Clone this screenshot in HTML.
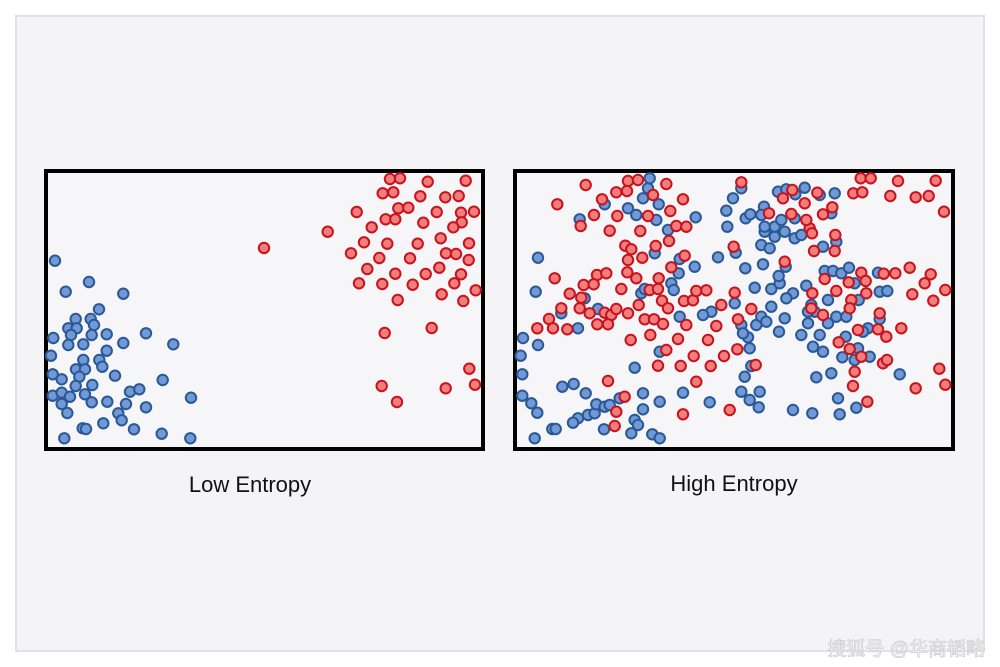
<!DOCTYPE html>
<html><head><meta charset="utf-8"><style>
html,body{margin:0;padding:0;background:#fff;}
#wrap{position:relative;width:1000px;height:667px;overflow:hidden;}
svg{display:block;}
</style></head><body>
<div id="wrap">
<svg id="chart" width="1000" height="667" viewBox="0 0 1000 667">
<rect x="0" y="0" width="1000" height="667" fill="#ffffff"/>
<rect x="16" y="16" width="968" height="635" fill="#f4f4f6" stroke="#e2e2e4" stroke-width="2"/>
<g id="leftPanel">
<rect x="46" y="171" width="437" height="278" fill="#f6f6f8" stroke="#000" stroke-width="4"/>
</g>
<g id="rightPanel">
<rect x="515" y="171" width="438" height="278" fill="#f6f6f8" stroke="#000" stroke-width="4"/>
</g>
<text x="250" y="492" text-anchor="middle" font-family="Liberation Sans, sans-serif" font-size="22" fill="#111">Low Entropy</text>
<text x="734" y="491" text-anchor="middle" font-family="Liberation Sans, sans-serif" font-size="22" fill="#111">High Entropy</text>
<text x="985" y="655" text-anchor="end" font-family="Liberation Sans, 'Noto Sans CJK SC', sans-serif" font-size="19" fill="#ffffff" stroke="#cfcfd2" stroke-width="0.8">搜狐号 @华商韬略</text>
</svg>
</div>
<script>
// Point coordinates, in 0..1350 (x) by 0..870 (y) units across each panel region
const lowBlueX=[45,147,77,250,177,107,152,85,110,162,40,93,155,200,318,85,130,250,400,33,200,130,178,187,108,135,118,38,65,225,368,107,157,38,65,90,135,270,298,453,65,155,202,258,318,82,235,245,190,128,138,282,365,73,451];
const lowBlueY=[287,351,380,386,433,462,462,490,490,480,519,510,510,508,505,540,538,534,538,572,557,585,585,605,613,613,635,628,643,632,645,663,660,692,683,695,688,680,673,698,717,712,710,717,727,744,745,766,775,790,792,793,806,820,820];
const lowRedX=[1050,1080,1163,1277,1028,1060,1141,1216,1256,950,1075,1105,1190,1263,1302,1037,1066,1150,1265,1240,995,863,672,972,1042,1133,1202,1287,933,1018,1110,1218,1248,1286,982,1066,1157,1198,1263,1243,957,1027,1118,1307,1205,1073,1270,1034,1175,1288,1025,1217,1305,1071];
const lowRedY=[42,40,50,47,85,82,94,97,93,141,130,128,141,143,140,163,163,173,172,187,187,200,249,232,236,236,220,235,265,279,280,265,267,285,312,326,327,308,328,355,355,357,359,376,388,405,408,504,489,611,663,670,659,711];
const highRedX=[233,148,282,325,360,390,357,475,435,525,258,218,328,305,420,487,505,535,397,483,443,352,370,360,403,530,490,140,267,295,227,257,358,385,452,185,340,425,450,220,215,160,245,290,310,325,360,392,462,480,528,555,565,595,680,640,730,123,88,135,178,268,300,410,438,465,535,625,690,368,427,510,600,475,557,648,688,450,518,608,565,300,350,325,320,525,665,700,825,853,890,928,973,783,850,905,945,895,912,982,918,980,830,677,1058,1088,1170,1283,1036,1063,1147,1223,1262,1308,1205,1268,1250,1060,1127,1162,1073,950,1022,985,1213,1276,1312,1075,1030,1025,1115,1180,1110,1135,1050,992,1025,1060,1125,1137,1040,1035,1078,1223,1294,1312,913,910,945,743];
const highRedY=[60,118,103,82,48,45,78,57,90,103,150,183,153,197,153,138,183,185,198,228,243,242,253,285,278,272,307,340,330,325,360,358,322,340,340,386,372,375,372,398,430,430,445,443,450,432,445,420,407,430,408,406,378,376,383,420,432,462,490,490,493,478,478,463,463,477,480,483,463,525,510,522,525,555,573,573,553,602,603,603,650,648,695,740,783,748,735,52,100,75,115,83,127,145,147,190,148,165,205,210,258,258,290,245,40,40,48,47,85,82,93,97,93,140,308,328,355,323,326,325,348,342,352,378,388,407,375,385,405,430,445,490,493,515,495,532,552,575,595,585,620,663,710,670,611,659,385,430,450,600];
const highBlueX=[90,83,45,90,38,43,43,70,88,80,133,143,163,197,233,210,195,240,260,265,290,305,335,288,380,390,405,405,370,433,455,455,525,380,455,605,752,725,755,700,710,730,725,720,745,760,775,790,813,830,855,835,790,815,812,833,765,740,712,630,683,680,700,705,610,585,560,512,490,497,515,160,210,230,270,400,410,515,440,563,420,425,405,452,445,385,360,290,215,480,655,658,675,700,713,727,768,760,810,835,862,890,935,980,970,985,945,760,785,770,800,830,860,880,800,770,820,860,935,900,880,915,945,970,925,990,995,1045,1003,1013,1040,1050,1085,1080,1065,1115,1115,1138,1110,1175,950,975,1000,1023,1040,1052,960,910,895,985,1015,960,920,900,855,913];
const highBlueY=[278,380,519,540,572,628,692,715,743,820,792,792,665,657,685,760,773,750,745,718,725,720,700,793,765,780,733,685,805,808,820,710,683,608,560,712,727,705,680,680,635,603,550,517,480,455,470,425,500,460,385,400,372,355,333,305,298,368,310,277,263,415,480,505,440,450,305,325,355,375,455,445,490,400,432,385,372,282,265,157,70,40,100,118,165,150,130,118,163,195,137,185,100,70,160,148,125,150,80,73,88,68,90,85,145,230,245,240,250,200,215,200,220,210,185,185,165,160,510,475,510,545,560,625,637,700,748,728,577,515,585,550,575,490,500,462,380,378,323,628,318,318,325,308,355,405,405,420,362,455,455,475,440,440,735,745];

// axis functions: map panel units to screen pixels
function xLeft(v){return 40+v/3;}
function xRight(v){return 508+v/3;}
function yAxis(v){return 165+v/3;}

const NS='http://www.w3.org/2000/svg';
function drawSeries(groupId,xs,ys,xf,color,name){
  const g=document.getElementById(groupId);
  for(let i=0;i<xs.length;i++){
    const c=document.createElementNS(NS,'circle');
    c.setAttribute('cx',xf(xs[i]).toFixed(1));
    c.setAttribute('cy',yAxis(ys[i]).toFixed(1));
    c.setAttribute('r','5.2');
    c.setAttribute('fill',color==='blue'?'#7099d6':'#f27d7d');
    c.setAttribute('stroke',color==='blue'?'#2a5896':'#c8121c');
    c.setAttribute('stroke-width','2');
    
    
    g.appendChild(c);
  }
}
drawSeries('leftPanel',lowBlueX,lowBlueY,xLeft,'blue','low-entropy-blue-point');
drawSeries('leftPanel',lowRedX,lowRedY,xLeft,'red','low-entropy-red-point');
drawSeries('rightPanel',highBlueX,highBlueY,xRight,'blue','high-entropy-blue-point');
drawSeries('rightPanel',highRedX,highRedY,xRight,'red','high-entropy-red-point');
</script>
</body></html>
